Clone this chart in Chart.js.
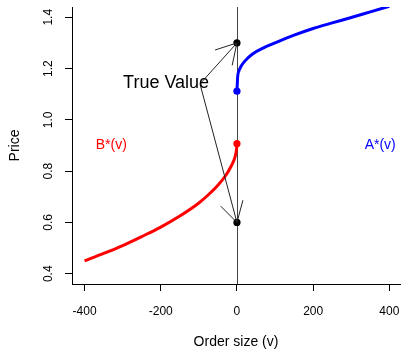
<!DOCTYPE html>
<html>
<head>
<meta charset="utf-8">
<script src="https://cdn.jsdelivr.net/npm/chart.js@4/dist/chart.umd.min.js"></script>
<style>
  html, body { margin: 0; padding: 0; background: #fff; }
  #wrap { width: 404px; height: 351px; }
</style>
</head>
<body>
<div id="wrap"><canvas id="c" width="404" height="351"></canvas></div>
<script>
// Bid schedule B*(v) for sell orders (v < 0)
const bidSize  = [-400, -350, -300, -250, -200, -150, -100, -75, -50, -30, -15, -5, -1, 0];
const bidPrice = [0.450, 0.479, 0.510, 0.545, 0.582, 0.625, 0.676, 0.708, 0.745, 0.782, 0.820, 0.856, 0.887, 0.907];

// Ask schedule A*(v) for buy orders (v > 0)
const askSize  = [0, 2, 5, 10, 20, 40, 70, 100, 150, 200, 250, 300, 350, 400];
const askPrice = [1.112, 1.170, 1.190, 1.207, 1.228, 1.256, 1.281, 1.300, 1.330, 1.356, 1.378, 1.399, 1.421, 1.443];

// Possible true values of the asset
const trueSize  = [0, 0];
const truePrice = [1.3, 0.6];

// Axes
const xTicks = [-400, -200, 0, 200, 400];
const yTicks = [0.4, 0.6, 0.8, 1.0, 1.2, 1.4];
const xRange = [-433, 428];
const yRange = [0.36, 1.44];

// Text placed in data coordinates
const noteText = 'True Value';
const notePos = [-186, 1.145];
const arrowTail = [-97, 1.14];
const curveLabels = ['B*(v)', 'A*(v)'];
const curveLabelX = [-330, 376];
const curveLabelY = [0.9, 0.9];

const FONT = '"Liberation Sans", Arial, Helvetica, sans-serif';
const RED = '#ff0000';
const BLUE = '#0000ff';

const pts = (xs, ys) => xs.map((x, i) => ({ x: x, y: ys[i] }));

// vertical reference line at v = 0
const refLine = {
  id: 'refLine',
  beforeDatasetsDraw(chart) {
    const { ctx, chartArea: a, scales: { x } } = chart;
    const px = Math.round(x.getPixelForValue(0)) + 0.5;
    ctx.save();
    ctx.strokeStyle = '#444';
    ctx.lineWidth = 1;
    ctx.beginPath();
    ctx.moveTo(px, a.top);
    ctx.lineTo(px, a.bottom);
    ctx.stroke();
    ctx.restore();
  }
};

const notes = {
  id: 'notes',
  afterDatasetsDraw(chart) {
    const { ctx, scales: { x, y } } = chart;
    ctx.save();
    // arrows from the note to each true value
    const tx = x.getPixelForValue(arrowTail[0]);
    const ty = y.getPixelForValue(arrowTail[1]);
    ctx.strokeStyle = '#222';
    ctx.lineWidth = 1;
    trueSize.forEach((v, i) => {
      const hx = x.getPixelForValue(v);
      const hy = y.getPixelForValue(truePrice[i]);
      const ang = Math.atan2(hy - ty, hx - tx);
      const len = 23, spread = Math.PI / 6;
      ctx.beginPath();
      ctx.moveTo(tx, ty);
      ctx.lineTo(hx, hy);
      ctx.moveTo(hx - len * Math.cos(ang - spread), hy - len * Math.sin(ang - spread));
      ctx.lineTo(hx, hy);
      ctx.lineTo(hx - len * Math.cos(ang + spread), hy - len * Math.sin(ang + spread));
      ctx.stroke();
    });
    // note text
    ctx.fillStyle = '#000';
    ctx.font = '18px ' + FONT;
    ctx.textAlign = 'center';
    ctx.textBaseline = 'middle';
    ctx.fillText(noteText, x.getPixelForValue(notePos[0]), y.getPixelForValue(notePos[1]));
    // curve labels
    ctx.font = '14px ' + FONT;
    const cols = [RED, BLUE];
    curveLabels.forEach((t, i) => {
      ctx.fillStyle = cols[i];
      ctx.fillText(t, x.getPixelForValue(curveLabelX[i]), y.getPixelForValue(curveLabelY[i]));
    });
    ctx.restore();
  },
  afterDraw(chart) {
    // y tick labels, written upright along the axis
    const { ctx, scales: { y } } = chart;
    ctx.save();
    ctx.fillStyle = '#000';
    ctx.font = '12px ' + FONT;
    ctx.textAlign = 'center';
    ctx.textBaseline = 'middle';
    y.ticks.forEach(t => {
      const py = y.getPixelForValue(t.value);
      ctx.save();
      ctx.translate(48.5, py);
      ctx.rotate(-Math.PI / 2);
      ctx.fillText(t.value.toFixed(1), 0, 0);
      ctx.restore();
    });
    ctx.restore();
  }
};

new Chart(document.getElementById('c'), {
  type: 'scatter',
  data: {
    datasets: [
      {
        data: pts(bidSize, bidPrice),
        showLine: true,
        borderColor: RED,
        borderWidth: 3,
        pointRadius: 0,
        cubicInterpolationMode: 'monotone',
        clip: 0,
        order: 3
      },
      {
        data: pts(askSize, askPrice),
        showLine: true,
        borderColor: BLUE,
        borderWidth: 3,
        pointRadius: 0,
        cubicInterpolationMode: 'monotone',
        clip: 0,
        order: 3
      },
      {
        data: [{ x: bidSize[bidSize.length - 1], y: bidPrice[bidPrice.length - 1] }],
        pointRadius: 3.6,
        pointBackgroundColor: RED,
        pointBorderColor: RED,
        pointBorderWidth: 0,
        order: 2
      },
      {
        data: [{ x: askSize[0], y: askPrice[0] }],
        pointRadius: 3.6,
        pointBackgroundColor: BLUE,
        pointBorderColor: BLUE,
        pointBorderWidth: 0,
        order: 2
      },
      {
        data: pts(trueSize, truePrice),
        pointRadius: 3.6,
        pointBackgroundColor: '#000',
        pointBorderColor: '#000',
        pointBorderWidth: 0,
        order: 1
      }
    ]
  },
  options: {
    responsive: false,
    animation: false,
    devicePixelRatio: 1,
    layout: { padding: { top: 7, left: 0, right: 0, bottom: 0 } },
    plugins: { legend: { display: false }, tooltip: { enabled: false } },
    scales: {
      x: {
        type: 'linear',
        min: xRange[0],
        max: xRange[1],
        afterBuildTicks: s => { s.ticks = xTicks.map(v => ({ value: v })); },
        afterFit: s => { s.height = 67; s.paddingLeft = 0; s.paddingRight = 0; },
        ticks: {
          color: '#000',
          font: { family: FONT, size: 12 },
          padding: 13,
          maxRotation: 0,
          callback: v => String(v)
        },
        grid: { drawOnChartArea: false, drawTicks: true, tickLength: 7, color: '#000', lineWidth: 1 },
        border: { display: true, color: '#000', width: 1 },
        title: {
          display: true,
          text: 'Order size (v)',
          color: '#000',
          font: { family: FONT, size: 14 },
          padding: { top: 0, bottom: 0 }
        }
      },
      y: {
        type: 'linear',
        min: yRange[0],
        max: yRange[1],
        afterBuildTicks: s => { s.ticks = yTicks.map(v => ({ value: v })); },
        afterFit: s => { s.width = 72; s.paddingTop = 0; s.paddingBottom = 0; },
        ticks: { display: false },
        grid: { drawOnChartArea: false, drawTicks: true, tickLength: 7, color: '#000', lineWidth: 1 },
        border: { display: true, color: '#000', width: 1 },
        title: {
          display: true,
          text: 'Price',
          color: '#000',
          font: { family: FONT, size: 14 },
          padding: { top: 6.6, bottom: 0 }
        }
      }
    }
  },
  plugins: [refLine, notes]
});
</script>
</body>
</html>
